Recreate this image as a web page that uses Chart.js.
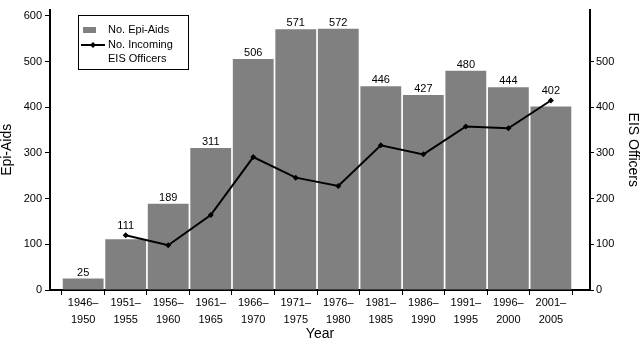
<!DOCTYPE html>
<html>
<head>
<meta charset="utf-8">
<script src="https://cdn.jsdelivr.net/npm/chart.js@4"></script>
<style>
  html, body { margin: 0; padding: 0; background: #fff; }
  #wrap { width: 640px; height: 338px; }
</style>
</head>
<body>
<div id="wrap"><canvas id="chart" width="640" height="338"></canvas></div>
<script>
const periodStart = ['1946', '1951', '1956', '1961', '1966', '1971', '1976', '1981', '1986', '1991', '1996', '2001'];
const periodEnd = ['1950', '1955', '1960', '1965', '1970', '1975', '1980', '1985', '1990', '1995', '2000', '2005'];
const epiAids = [25, 111, 189, 311, 506, 571, 572, 446, 427, 480, 444, 402];
const eisOfficers = [null, 120, 98, 164, 291, 246, 228, 317, 297, 358, 354, 415];
const leftTicks = [0, 100, 200, 300, 400, 500, 600];
const rightTicks = [0, 100, 200, 300, 400, 500];

const FONT = "'Liberation Sans', Arial, sans-serif";
const BAR_GRAY = '#808080';

// numbers above each bar; lifted when the officer line runs just over the bar
const barLabels = {
  id: 'barLabels',
  afterDatasetsDraw(chart) {
    const c = chart.ctx;
    const bars = chart.getDatasetMeta(0).data;
    const pts = chart.getDatasetMeta(1).data;
    c.save();
    c.font = '11px ' + FONT;
    c.fillStyle = '#000';
    c.textAlign = 'center';
    c.textBaseline = 'alphabetic';
    bars.forEach((bar, i) => {
      let y = bar.y - 3;
      const p = pts[i];
      if (eisOfficers[i] !== null && p && !p.skip) y = Math.min(y, p.y - 6);
      c.fillText(String(epiAids[i]), bar.x, y);
    });
    c.restore();
  }
};

// boxed legend in the upper left of the plot
const boxLegend = {
  id: 'boxLegend',
  afterDraw(chart) {
    const c = chart.ctx;
    c.save();
    c.fillStyle = '#fff';
    c.fillRect(78.5, 15.5, 110, 54);
    c.strokeStyle = '#000';
    c.lineWidth = 1;
    c.strokeRect(78.5, 15.5, 110, 54);

    c.fillStyle = BAR_GRAY;
    c.fillRect(83, 27, 13, 6);

    c.strokeStyle = '#000';
    c.lineWidth = 2;
    c.beginPath();
    c.moveTo(81, 45);
    c.lineTo(105, 45);
    c.stroke();
    c.fillStyle = '#000';
    c.beginPath();
    c.moveTo(93, 42);
    c.lineTo(96, 45);
    c.lineTo(93, 48);
    c.lineTo(90, 45);
    c.closePath();
    c.fill();

    c.font = '11px ' + FONT;
    c.textAlign = 'left';
    c.textBaseline = 'middle';
    c.fillText('No. Epi-Aids', 108, 30);
    c.fillText('No. Incoming', 108, 45);
    c.fillText('EIS Officers', 108, 59);
    c.restore();
  }
};

new Chart(document.getElementById('chart'), {
  type: 'bar',
  data: {
    datasets: [
      {
        type: 'bar',
        label: 'No. Epi-Aids',
        data: epiAids.map((v, i) => ({ x: i, y: v })),
        backgroundColor: BAR_GRAY,
        borderWidth: 0,
        barPercentage: 0.96,
        categoryPercentage: 1,
        yAxisID: 'y',
        order: 1
      },
      {
        type: 'line',
        label: 'No. Incoming EIS Officers',
        data: eisOfficers.map((v, i) => ({ x: i, y: v })),
        borderColor: '#000',
        borderWidth: 2,
        backgroundColor: '#000',
        pointStyle: 'rectRot',
        pointRadius: 3,
        pointBackgroundColor: '#000',
        pointBorderWidth: 0,
        tension: 0,
        yAxisID: 'y2',
        order: 0
      }
    ]
  },
  options: {
    responsive: false,
    devicePixelRatio: 1,
    animation: false,
    layout: { padding: 0 },
    plugins: {
      legend: { display: false },
      tooltip: { enabled: false }
    },
    scales: {
      x: {
        type: 'linear',
        min: -0.78,
        max: 11.92,
        offset: false,
        afterBuildTicks: (scale) => {
          scale.ticks = periodStart.map((s, i) => ({ value: i }));
        },
        afterFit: (scale) => { scale.height = 48; },
        grid: {
          offset: true,
          drawOnChartArea: false,
          drawTicks: true,
          tickLength: 5,
          color: '#000',
          lineWidth: 1
        },
        border: { display: true, color: '#000', width: 2 },
        ticks: {
          autoSkip: false,
          maxRotation: 0,
          padding: 0,
          color: '#000',
          font: { family: FONT, size: 11, lineHeight: 1.5 },
          callback: (value, index) => [periodStart[index] + '–', periodEnd[index]]
        },
        title: {
          display: true,
          text: 'Year',
          color: '#000',
          padding: { top: 0, bottom: -3 },
          font: { family: FONT, size: 14, lineHeight: 1 }
        }
      },
      y: {
        position: 'left',
        min: 0,
        max: 614,
        afterBuildTicks: (scale) => {
          scale.ticks = leftTicks.map(v => ({ value: v }));
        },
        afterFit: (scale) => { scale.width = 50; },
        grid: {
          drawOnChartArea: false,
          tickLength: 5,
          color: '#000'
        },
        border: { display: true, color: '#000', width: 2 },
        ticks: {
          padding: 3,
          color: '#000',
          font: { family: FONT, size: 11 }
        },
        title: {
          display: true,
          text: 'Epi-Aids',
          color: '#000',
          padding: 0,
          font: { family: FONT, size: 14, lineHeight: 1 }
        }
      },
      y2: {
        position: 'right',
        min: 0,
        max: 614,
        afterBuildTicks: (scale) => {
          scale.ticks = rightTicks.map(v => ({ value: v }));
        },
        afterFit: (scale) => { scale.width = 50; },
        grid: {
          drawOnChartArea: false,
          tickLength: 4,
          color: '#000'
        },
        border: { display: true, color: '#000', width: 2 },
        ticks: {
          padding: 2,
          color: '#000',
          font: { family: FONT, size: 11 }
        },
        title: {
          display: true,
          text: 'EIS Officers',
          color: '#000',
          padding: 0,
          font: { family: FONT, size: 14, lineHeight: 1 }
        }
      }
    }
  },
  plugins: [barLabels, boxLegend]
});
</script>
</body>
</html>
